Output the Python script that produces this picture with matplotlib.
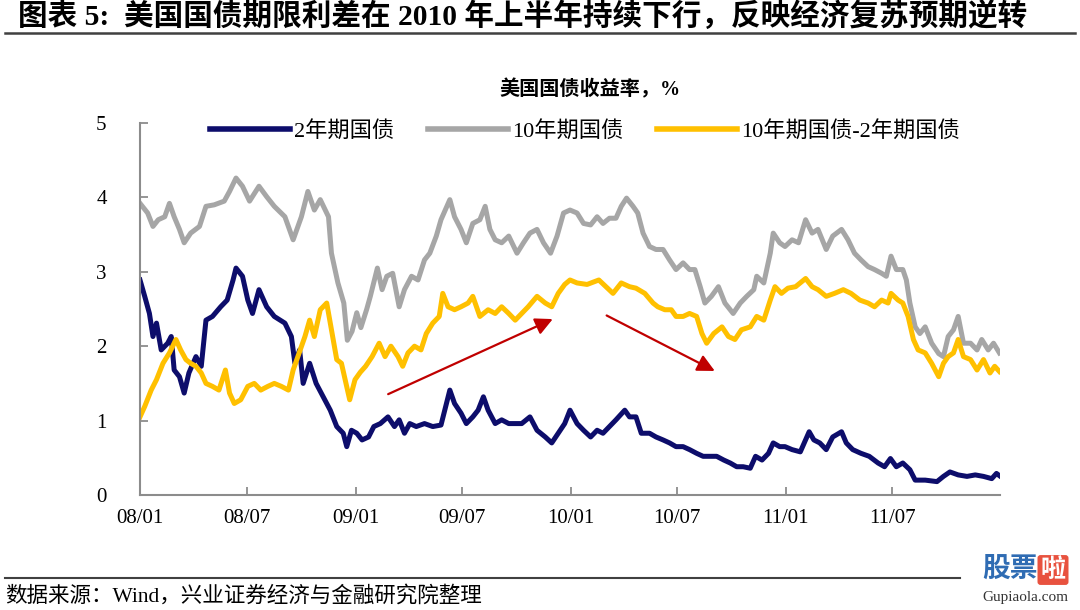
import matplotlib
matplotlib.use('Agg')
import matplotlib.pyplot as plt
import pandas as pd
from matplotlib.lines import Line2D

plt.rcParams['font.family'] = ['Liberation Serif', 'Noto Sans CJK SC']

# ----- 2年期国债收益率 (%) ----- #
dates_2y = [
    '2008-01-01', '2008-01-09', '2008-01-17', '2008-01-23', '2008-01-29', '2008-02-06', '2008-02-17',
    '2008-02-23', '2008-02-28', '2008-03-08', '2008-03-16', '2008-03-24', '2008-04-05', '2008-04-14',
    '2008-04-22', '2008-05-03', '2008-05-17', '2008-05-28', '2008-06-07', '2008-06-12', '2008-06-23',
    '2008-07-02', '2008-07-10', '2008-07-21', '2008-08-03', '2008-08-16', '2008-09-03', '2008-09-14',
    '2008-09-20', '2008-09-28', '2008-10-04', '2008-10-15', '2008-10-26', '2008-11-07', '2008-11-19',
    '2008-11-30', '2008-12-11', '2008-12-17', '2008-12-25',
    '2009-01-03', '2009-01-12', '2009-01-23', '2009-02-01', '2009-02-12', '2009-02-25', '2009-03-08',
    '2009-03-16', '2009-03-25', '2009-04-03', '2009-04-14', '2009-04-28', '2009-05-12', '2009-05-26',
    '2009-06-10', '2009-06-18', '2009-06-29', '2009-07-08', '2009-07-19', '2009-07-28', '2009-08-06',
    '2009-08-14', '2009-08-26', '2009-09-06', '2009-09-18', '2009-09-29', '2009-10-10', '2009-10-24',
    '2009-11-05', '2009-11-19', '2009-11-30', '2009-12-11', '2009-12-22', '2009-12-31',
    '2010-01-12', '2010-01-23', '2010-02-04', '2010-02-15', '2010-02-25', '2010-03-08', '2010-03-19',
    '2010-04-03', '2010-04-11', '2010-04-22', '2010-05-01', '2010-05-15', '2010-05-26', '2010-06-07',
    '2010-06-18', '2010-06-29', '2010-07-11', '2010-07-22', '2010-08-03', '2010-08-14', '2010-08-26',
    '2010-09-06', '2010-09-18', '2010-09-29', '2010-10-10', '2010-10-21', '2010-11-02', '2010-11-11',
    '2010-11-22', '2010-12-03', '2010-12-11', '2010-12-22', '2010-12-31',
    '2011-01-12', '2011-01-26', '2011-02-10', '2011-02-18', '2011-02-28', '2011-03-11', '2011-03-22',
    '2011-04-06', '2011-04-14', '2011-04-25', '2011-05-09', '2011-05-23', '2011-06-07', '2011-06-18',
    '2011-06-28', '2011-07-08', '2011-07-19', '2011-07-31', '2011-08-09', '2011-08-26', '2011-09-15',
    '2011-09-26', '2011-10-07', '2011-10-21', '2011-11-05', '2011-11-19', '2011-12-03', '2011-12-17',
    '2011-12-25', '2011-12-30',
]
yield_2y = [
    2.89, 2.67, 2.44, 2.13, 2.31, 1.95, 2.04,
    2.13, 1.68, 1.59, 1.37, 1.64, 1.86, 1.73,
    2.35, 2.40, 2.53, 2.62, 2.89, 3.05, 2.94,
    2.62, 2.44, 2.76, 2.53, 2.40, 2.31, 2.13,
    1.77, 1.95, 1.50, 1.77, 1.50, 1.32, 1.14,
    0.92, 0.83, 0.65, 0.87,
    0.83, 0.74, 0.78, 0.92, 0.96, 1.05, 0.92,
    1.01, 0.83, 0.96, 0.92, 0.96, 0.92, 0.94,
    1.41, 1.23, 1.10, 0.96, 1.05, 1.14, 1.32,
    1.14, 0.96, 1.01, 0.96, 0.96, 0.96, 1.05,
    0.87, 0.78, 0.70, 0.83, 0.96, 1.14,
    0.96, 0.87, 0.78, 0.87, 0.83, 0.92, 1.01,
    1.14, 1.05, 1.05, 0.83, 0.83, 0.78, 0.74,
    0.70, 0.65, 0.65, 0.61, 0.56, 0.52, 0.52,
    0.52, 0.47, 0.43, 0.38, 0.38, 0.36, 0.52,
    0.47, 0.56, 0.70, 0.65, 0.65,
    0.61, 0.58, 0.85, 0.74, 0.70, 0.61, 0.78,
    0.85, 0.70, 0.61, 0.56, 0.52, 0.43, 0.38,
    0.49, 0.38, 0.43, 0.34, 0.20, 0.20, 0.18,
    0.25, 0.31, 0.27, 0.25, 0.27, 0.25, 0.22,
    0.29, 0.26,
]

# ----- 10年期国债收益率 (%) ----- #
dates_10y = [
    '2008-01-01', '2008-01-14', '2008-01-23', '2008-02-01', '2008-02-12', '2008-02-20', '2008-02-28',
    '2008-03-08', '2008-03-16', '2008-03-27', '2008-04-11', '2008-04-22', '2008-05-06', '2008-05-23',
    '2008-06-01', '2008-06-12', '2008-06-23', '2008-07-05', '2008-07-21', '2008-08-03', '2008-08-16',
    '2008-09-03', '2008-09-17', '2008-10-01', '2008-10-12', '2008-10-23', '2008-11-02', '2008-11-16',
    '2008-11-21', '2008-12-02', '2008-12-12', '2008-12-18', '2008-12-26',
    '2009-01-03', '2009-01-10', '2009-01-20', '2009-01-26', '2009-02-07', '2009-02-15', '2009-02-23',
    '2009-03-05', '2009-03-16', '2009-03-25', '2009-04-06', '2009-04-17', '2009-04-28', '2009-05-07',
    '2009-05-18', '2009-05-26', '2009-06-10', '2009-06-18', '2009-06-29', '2009-07-08', '2009-07-19',
    '2009-07-31', '2009-08-09', '2009-08-17', '2009-08-26', '2009-09-06', '2009-09-18', '2009-10-02',
    '2009-10-13', '2009-10-24', '2009-11-05', '2009-11-16', '2009-11-28', '2009-12-09', '2009-12-20',
    '2009-12-31',
    '2010-01-12', '2010-01-23', '2010-02-04', '2010-02-15', '2010-02-25', '2010-03-08', '2010-03-19',
    '2010-03-28', '2010-04-06', '2010-04-17', '2010-04-25', '2010-05-04', '2010-05-15', '2010-05-26',
    '2010-06-07', '2010-06-18', '2010-06-29', '2010-07-11', '2010-07-22', '2010-07-31', '2010-08-09',
    '2010-08-17', '2010-08-28', '2010-09-09', '2010-09-20', '2010-10-04', '2010-10-16', '2010-10-27',
    '2010-11-08', '2010-11-13', '2010-11-25', '2010-12-06', '2010-12-11', '2010-12-22', '2010-12-31',
    '2011-01-12', '2011-01-23', '2011-02-04', '2011-02-15', '2011-02-25', '2011-03-11', '2011-03-22',
    '2011-04-06', '2011-04-17', '2011-04-28', '2011-05-09', '2011-05-21', '2011-06-01', '2011-06-13',
    '2011-06-21', '2011-06-29', '2011-07-08', '2011-07-19', '2011-07-25', '2011-07-31', '2011-08-09',
    '2011-08-17', '2011-08-26', '2011-09-06', '2011-09-18', '2011-09-26', '2011-10-04', '2011-10-13',
    '2011-10-21', '2011-10-30', '2011-11-11', '2011-11-22', '2011-11-30', '2011-12-11', '2011-12-20',
    '2011-12-30',
]
yield_10y = [
    3.92, 3.79, 3.61, 3.70, 3.74, 3.92, 3.74,
    3.57, 3.39, 3.52, 3.61, 3.88, 3.90, 3.95,
    4.08, 4.26, 4.15, 3.95, 4.15, 4.01, 3.88,
    3.74, 3.43, 3.74, 4.08, 3.83, 3.97, 3.74,
    3.25, 2.85, 2.58, 2.08, 2.20,
    2.45, 2.25, 2.50, 2.67, 3.05, 2.76, 2.94,
    2.98, 2.53, 2.76, 2.94, 2.89, 3.16, 3.25,
    3.48, 3.70, 3.97, 3.74, 3.57, 3.39, 3.65,
    3.70, 3.88, 3.57, 3.43, 3.39, 3.48, 3.25,
    3.39, 3.52, 3.57, 3.39, 3.25, 3.48, 3.79,
    3.83,
    3.79, 3.65, 3.63, 3.74, 3.65, 3.72, 3.72,
    3.88, 3.99, 3.88, 3.79, 3.52, 3.34, 3.30,
    3.30, 3.16, 3.03, 3.12, 3.03, 3.03, 2.80,
    2.58, 2.67, 2.80, 2.58, 2.44, 2.58, 2.67,
    2.76, 2.94, 2.85, 3.25, 3.52, 3.39, 3.34,
    3.43, 3.39, 3.70, 3.52, 3.57, 3.30, 3.48,
    3.57, 3.43, 3.25, 3.16, 3.07, 3.03, 2.98,
    2.94, 3.21, 3.03, 3.03, 2.89, 2.58, 2.26,
    2.17, 2.26, 2.04, 1.90, 1.86, 2.13, 2.22,
    2.40, 2.04, 2.04, 1.95, 2.09, 1.95, 2.04,
    1.91,
]

# ----- 10年期国债-2年期国债 (%) ----- #
dates_spread = [
    '2008-01-01', '2008-01-09', '2008-01-20', '2008-01-29', '2008-02-09', '2008-02-20', '2008-03-02',
    '2008-03-10', '2008-03-19', '2008-03-27', '2008-04-05', '2008-04-14', '2008-04-22', '2008-05-03',
    '2008-05-14', '2008-05-25', '2008-06-01', '2008-06-09', '2008-06-20', '2008-07-02', '2008-07-13',
    '2008-07-24', '2008-08-05', '2008-08-16', '2008-08-28', '2008-09-09', '2008-09-17', '2008-09-25',
    '2008-10-07', '2008-10-15', '2008-10-23', '2008-11-02', '2008-11-13', '2008-11-21', '2008-11-30',
    '2008-12-08', '2008-12-22', '2008-12-31',
    '2009-01-09', '2009-01-18', '2009-01-29', '2009-02-10', '2009-02-20', '2009-03-02', '2009-03-14',
    '2009-03-22', '2009-03-31', '2009-04-11', '2009-04-22', '2009-05-01', '2009-05-12', '2009-05-23',
    '2009-05-29', '2009-06-07', '2009-06-18', '2009-06-29', '2009-07-11', '2009-07-19', '2009-07-31',
    '2009-08-14', '2009-08-26', '2009-09-06', '2009-09-18', '2009-09-29', '2009-10-10', '2009-10-21',
    '2009-11-05', '2009-11-19', '2009-11-30', '2009-12-11', '2009-12-22', '2009-12-31',
    '2010-01-12', '2010-01-29', '2010-02-18', '2010-03-02', '2010-03-14', '2010-03-28', '2010-04-11',
    '2010-04-22', '2010-05-07', '2010-05-21', '2010-05-29', '2010-06-10', '2010-06-21', '2010-06-29',
    '2010-07-11', '2010-07-22', '2010-08-03', '2010-08-12', '2010-08-20', '2010-09-01', '2010-09-15',
    '2010-09-26', '2010-10-07', '2010-10-18', '2010-11-02', '2010-11-13', '2010-11-25', '2010-12-06',
    '2010-12-14', '2010-12-25',
    '2011-01-05', '2011-01-18', '2011-02-04', '2011-02-15', '2011-02-25', '2011-03-11', '2011-03-25',
    '2011-04-09', '2011-04-22', '2011-05-07', '2011-05-21', '2011-06-01', '2011-06-13', '2011-06-24',
    '2011-06-29', '2011-07-11', '2011-07-19', '2011-07-28', '2011-08-06', '2011-08-14', '2011-08-26',
    '2011-09-06', '2011-09-18', '2011-09-26', '2011-10-04', '2011-10-13', '2011-10-21', '2011-10-30',
    '2011-11-11', '2011-11-22', '2011-12-03', '2011-12-14', '2011-12-22', '2011-12-30',
]
spread = [
    1.05, 1.19, 1.41, 1.55, 1.77, 1.91, 2.09,
    1.95, 1.82, 1.77, 1.73, 1.64, 1.50, 1.46,
    1.41, 1.68, 1.37, 1.23, 1.28, 1.46, 1.50,
    1.41, 1.46, 1.50, 1.46, 1.41, 1.68, 1.86,
    2.13, 2.35, 2.13, 2.49, 2.58, 2.22, 1.82,
    1.77, 1.28, 1.55,
    1.65, 1.73, 1.86, 2.04, 1.86, 2.00, 1.86,
    1.73, 1.91, 2.00, 1.95, 2.17, 2.31, 2.40,
    2.71, 2.53, 2.49, 2.53, 2.58, 2.67, 2.40,
    2.49, 2.44, 2.53, 2.44, 2.35, 2.44, 2.53,
    2.67, 2.58, 2.53, 2.71, 2.83, 2.89,
    2.85, 2.83, 2.89, 2.80, 2.71, 2.85, 2.80,
    2.78, 2.71, 2.58, 2.53, 2.49, 2.49, 2.40,
    2.40, 2.44, 2.40, 2.17, 2.04, 2.17, 2.26,
    2.13, 2.09, 2.22, 2.26, 2.40, 2.35, 2.62,
    2.80, 2.71,
    2.78, 2.80, 2.91, 2.80, 2.76, 2.67, 2.71,
    2.76, 2.71, 2.62, 2.58, 2.53, 2.62, 2.58,
    2.71, 2.62, 2.58, 2.40, 2.09, 1.95, 1.91,
    1.77, 1.59, 1.77, 1.86, 1.91, 2.09, 1.86,
    1.82, 1.68, 1.82, 1.64, 1.73, 1.66,
]

# trend arrows: (start date, start value, end date, end value)
arrows = [
    ('2009-02-21', 1.34, '2009-12-06', 2.38),
    ('2010-02-27', 2.43, '2010-09-07', 1.65),
]

tick_dates = ['2008-01-01', '2008-07-01', '2009-01-01', '2009-07-01',
              '2010-01-01', '2010-07-01', '2011-01-01', '2011-07-01']
tick_labels = ['08/01', '08/07', '09/01', '09/07', '10/01', '10/07', '11/01', '11/07']

c_2y = '#0d0d6b'
c_10y = '#a6a6a6'
c_spread = '#ffc000'
c_axis = '#8c8c8c'

fig = plt.figure(figsize=(10.8, 6.1), dpi=100)
ax = fig.add_axes([140 / 1080, 1 - 495 / 610, 860 / 1080, 372 / 610])

ax.plot(pd.to_datetime(dates_2y), yield_2y, color=c_2y, lw=3.6, solid_joinstyle='round', label='2年期国债')
ax.plot(pd.to_datetime(dates_10y), yield_10y, color=c_10y, lw=3.6, solid_joinstyle='round', label='10年期国债')
ax.plot(pd.to_datetime(dates_spread), spread, color=c_spread, lw=3.6, solid_joinstyle='round',
        label='10年期国债-2年期国债')

for d0, v0, d1, v1 in arrows:
    ax.annotate('', xy=(pd.Timestamp(d1), v1), xytext=(pd.Timestamp(d0), v0),
                arrowprops=dict(arrowstyle='-|>', color='#c00000', lw=1.6, mutation_scale=26))

ax.set_xlim(pd.Timestamp('2008-01-01'), pd.Timestamp('2011-12-31'))
ax.set_ylim(0, 5)
ax.set_yticks([0, 1, 2, 3, 4, 5])
ax.set_xticks(pd.to_datetime(tick_dates))
ax.set_xticklabels(tick_labels)

for side in ['top', 'right']:
    ax.spines[side].set_visible(False)
for side in ['left', 'bottom']:
    ax.spines[side].set_color(c_axis)
    ax.spines[side].set_linewidth(1.5)
ax.tick_params(axis='both', direction='in', length=6, width=1.3, color=c_axis, labelsize=15)
ax.tick_params(axis='y', pad=24)
ax.tick_params(axis='x', pad=10)

handles = [Line2D([], [], color=c, lw=4) for c in [c_2y, c_10y, c_spread]]
fig.legend(handles, ['2年期国债', '10年期国债', '10年期国债-2年期国债'],
           loc='center', bbox_to_anchor=(585 / 1080, 1 - 131 / 610), ncol=3, frameon=False,
           fontsize=16, handlelength=3.6, handletextpad=0.2, columnspacing=1.5)

fig.text(590 / 1080, 1 - 90 / 610, '美国国债收益率，%', ha='center', va='center',
         fontsize=14.5, fontweight='bold')

# ----- header / footer ----- #
fig.text(18 / 1080, 1 - 16 / 610, '图表 5:  美国国债期限利差在 2010 年上半年持续下行，反映经济复苏预期逆转',
         ha='left', va='center', fontsize=21.3, fontweight='bold')
fig.add_artist(Line2D([5 / 1080, 1075 / 1080], [1 - 33 / 610] * 2, color='#404040', lw=1.8))

fig.text(5 / 1080, 1 - 596 / 610, '数据来源：Wind，兴业证券经济与金融研究院整理',
         ha='left', va='center', fontsize=15.5)
fig.add_artist(Line2D([5 / 1080, 960 / 1080], [1 - 578 / 610] * 2, color='#404040', lw=1.5))

fig.text(1010 / 1080, 1 - 570 / 610, '股票', ha='center', va='center', fontsize=20,
         fontweight='bold', color='#2f6cb3')
fig.text(1053 / 1080, 1 - 570 / 610, '啦', ha='center', va='center', fontsize=18,
         fontweight='bold', color='white',
         bbox=dict(boxstyle='round,pad=0.12', fc='#e8523f', ec='none'))
fig.text(1025 / 1080, 1 - 598 / 610, 'Gupiaola.com', ha='center', va='center', fontsize=11,
         color='#333333')

fig.savefig('out.png', dpi=100)
